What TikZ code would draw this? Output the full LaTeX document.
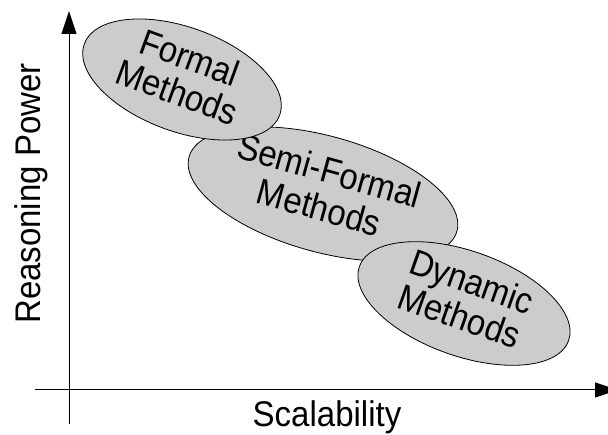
\documentclass[tikz,border=0pt]{standalone}
\usepackage{fontspec}
\setmainfont{Liberation Sans}
\usetikzlibrary{shapes.geometric,arrows.meta}
\definecolor{fillgray}{RGB}{204,204,204}
\newcommand{\mytwolines}[3][1]{\scalebox{1}[1.1]{\renewcommand{\arraystretch}{#1}\begin{tabular}{@{}c@{}}#2\\#3\end{tabular}}}
\newcommand{\mytall}[1]{\scalebox{1}[1.08]{#1}}
\begin{document}
\begin{tikzpicture}[x=1pt,y=-1pt,
  method/.style={ellipse, draw=black, line width=0.8pt, fill=fillgray,
    inner sep=0pt, font=\fontsize{33}{32}\selectfont},
  axisline/.style={line width=1pt, -{Triangle[length=23pt,width=15pt]}},
  axislabel/.style={font=\fontsize{33}{38}\selectfont, anchor=base, inner sep=0pt}]
\useasboundingbox (0,0) rectangle (608,435);
\clip (0,0) rectangle (608,435);
% axes
\coordinate (ybot) at (69,424);
\coordinate (ytop) at (69,11);
\coordinate (xleft) at (35,390);
\coordinate (xright) at (618,390);
\draw[axisline] (ybot) -- (ytop);
\draw[axisline] (xleft) -- (xright);
% ellipses
\node[method, minimum width=278pt, minimum height=116pt, rotate=-15.5] (semi) at (323,194) {\mytwolines[1.08]{Semi-Formal}{Methods}};
\node[method, minimum width=208pt, minimum height=104pt, rotate=-20] (formal) at (182,79.5) {\mytwolines{Formal}{Methods}};
\node[method, minimum width=222pt, minimum height=105pt, rotate=-19.5] (dynamic) at (464,303.5) {\mytwolines{Dynamic}{Methods}};
% labels
\node[axislabel, rotate=90] (ylabel) at (40,193.5) {\mytall{Reasoning Power}};
\node[axislabel] (xlabel) at (327,426.5) {\mytall{Scalability}};
\end{tikzpicture}
\end{document}
